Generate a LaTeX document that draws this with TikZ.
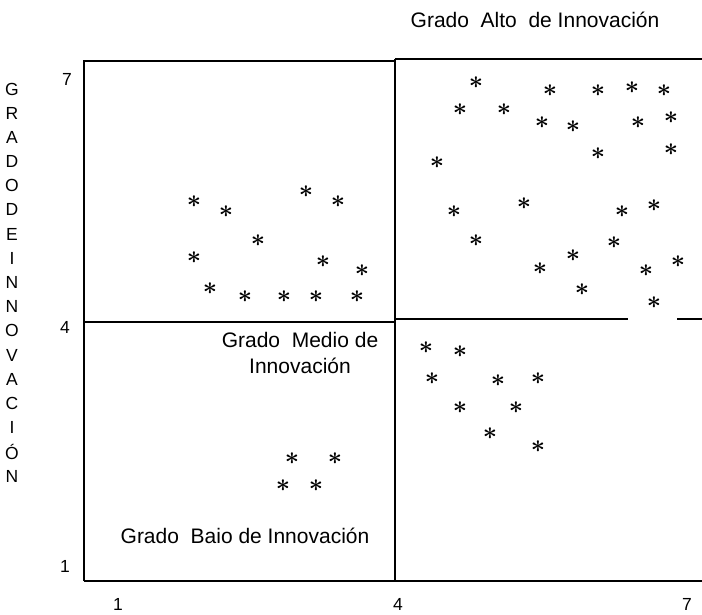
\documentclass[tikz,border=0pt]{standalone}
\usepackage{fontspec}
\setmainfont{Liberation Sans}
\usepackage{tikz}

\begin{document}
\begin{tikzpicture}[x=1pt, y=-1pt,
  punto/.style={inner sep=0pt, font=\fontsize{27}{27}\selectfont\boldmath},
  rotulo/.style={inner sep=0pt, font=\fontsize{21}{26}\selectfont},
  cifra/.style={inner sep=0pt, font=\fontsize{17.5}{17.5}\selectfont},
  borde/.style={line width=2pt},
  medio/.style={line width=1.4pt}]

  \useasboundingbox (0,0) rectangle (702,615);

  %% cuadrantes
  \coordinate (so) at (84,581);
  \coordinate (no) at (84,61);
  \coordinate (nc) at (395,61);
  \coordinate (ncd) at (395,59);
  \coordinate (ne) at (702,59);
  \coordinate (sc) at (395,581);
  \coordinate (se) at (702,581);

  \draw[borde] (so) -- (no) -- (nc);
  \draw[borde] (ncd) -- (ne);
  \draw[borde] (ncd) -- (sc);
  \draw[borde] (so) -- (se);

  \draw[medio] (84,322) -- (395,322);
  \draw[medio] (395,319) -- (628,319);
  \draw[medio] (677,319) -- (702,319);

  %% textos
  \node[rotulo] (alto) at (535,20) {Grado\ \ Alto\ \ de Innovación};
  \node[rotulo, align=center] (medio) at (300,353) {Grado\ \ Medio de\\Innovación};
  \node[rotulo] (bajo) at (245,536) {Grado\ \ Baio de Innovación};

  %% escalas
  \node[cifra] (y7) at (67,79) {7};
  \node[cifra] (y4) at (65,327) {4};
  \node[cifra] (y1) at (65,566) {1};
  \node[cifra] (x1) at (118,604) {1};
  \node[cifra] (x4) at (398,604) {4};
  \node[cifra] (x7) at (687,604) {7};

  \foreach \l [count=\i from 0] in {G,R,A,D,O,D,E,I,N,N,O,V,A,C,I,Ó,N}
    \node[cifra] (v\i) at (12, 89+24.19*\i) {\l};

  %% puntos
  \foreach \px/\py [count=\i] in {476/83, 550/91, 598/91, 632/88, 664/91,
      460/110, 504/110, 542/123, 573/127, 638/123, 671/118, 598/154, 671/150,
      437/163, 454/212, 524/204, 622/212, 654/206, 476/241, 614/243, 573/256,
      540/269, 646/271, 678/262, 582/290, 654/303,
      426/348, 460/352, 432/379, 498/381, 538/379, 460/408, 516/408, 490/434,
      538/447,
      194/202, 226/212, 306/192, 338/202, 258/241, 194/258, 323/262, 362/271,
      210/289, 245/297, 284/297, 316/297, 357/297,
      292/459, 335/459, 283/486, 316/486}
    \node[punto] (p\i) at (\px,\py) {$\ast$};
\end{tikzpicture}
\end{document}
